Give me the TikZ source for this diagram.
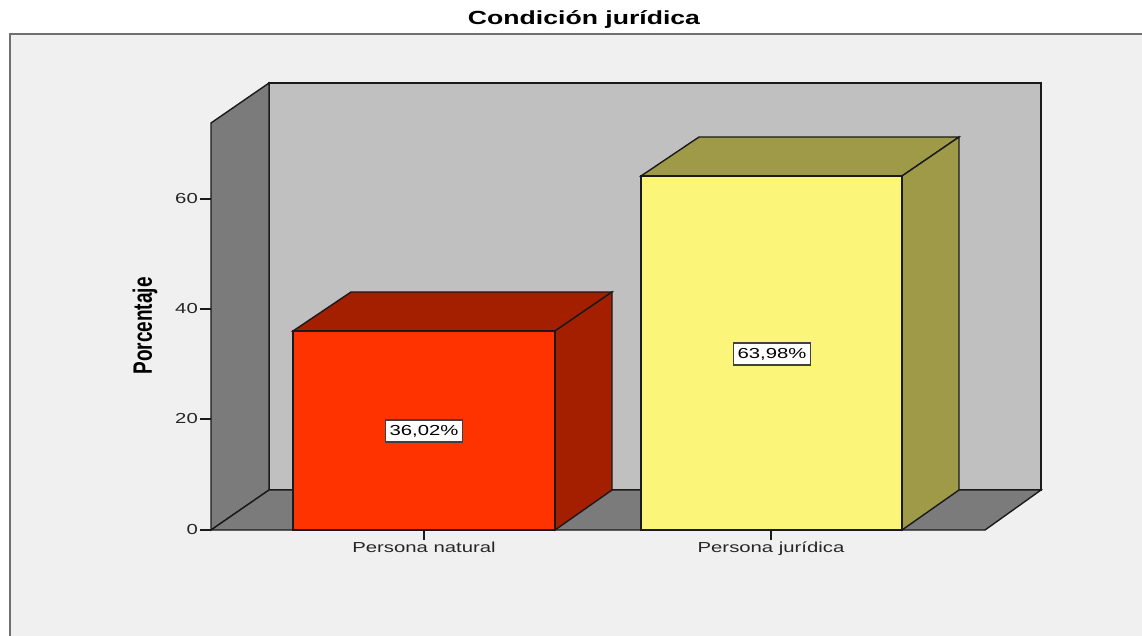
\documentclass[tikz,border=0pt]{standalone}
\usepackage{fontspec}
\newfontfamily\chartfont[FakeStretch=1.4]{Liberation Sans}
\newfontfamily\chartbold[FakeStretch=1.4]{Liberation Sans Bold}
\newfontfamily\plainbold{Liberation Sans Bold}
\definecolor{bgpanel}{HTML}{F0F0F0}
\definecolor{framegray}{HTML}{707070}
\definecolor{wallside}{HTML}{7B7B7B}
\definecolor{wallback}{HTML}{C0C0C0}
\definecolor{redfront}{HTML}{FF3300}
\definecolor{reddark}{HTML}{A31F00}
\definecolor{yelfront}{HTML}{FBF67A}
\definecolor{yeldark}{HTML}{9E9A48}
\definecolor{edge}{HTML}{1A1A1A}
\begin{document}
\begin{tikzpicture}[x=1pt,y=-1pt,
  face/.style={draw=edge,line width=1.4pt,line join=miter},
  ticklab/.style={font=\chartfont\fontsize{14.5}{16}\selectfont,text=black!85,inner sep=0pt},
  vallab/.style={font=\chartfont\fontsize{14.5}{16}\selectfont,fill=white,draw=black!75,line width=1.2pt,inner xsep=4pt,minimum height=22pt}]
\useasboundingbox (0,0) rectangle (1142,636);
\fill[white] (0,0) rectangle (1142,636);
\fill[bgpanel] (10,34) rectangle (1160,660);
\draw[framegray,line width=2pt] (10,660) -- (10,34) -- (1160,34);
% title
\node[font=\chartbold\fontsize{19}{21}\selectfont,inner sep=0pt] (title) at (584,20) {Condición jurídica};
% walls
\path[face,fill=wallback] (269,83) -- (1041,83) -- (1041,490) -- (269,490) -- cycle;
\path[face,fill=wallside] (211,123) -- (269,83) -- (269,490) -- (211,530) -- cycle;
\path[face,fill=wallside] (211,530) -- (985,530) -- (1041,490) -- (269,490) -- cycle;
% axis ticks
\foreach \v/\yy in {0/530,20/419,40/309,60/199}{
  \draw[edge,line width=1.2pt] (200,\yy) -- (211,\yy);
  \node[ticklab,anchor=east] (t\v) at (198,\yy) {\v};
}
\node[inner sep=0pt] (ytitle) at (145,326) {\scalebox{1.4}[1]{\rotatebox{90}{\plainbold\fontsize{19}{21}\selectfont Porcentaje}}};
% bar 1
\path[face,fill=reddark] (293,331) -- (351,292) -- (612,292) -- (555,331) -- cycle;
\path[face,fill=reddark] (555,331) -- (612,292) -- (612,490) -- (555,530) -- cycle;
\path[face,fill=redfront] (293,331) rectangle (555,530);
% bar 2
\path[face,fill=yeldark] (641,176) -- (699,137) -- (959,137) -- (902,176) -- cycle;
\path[face,fill=yeldark] (902,176) -- (959,137) -- (959,490) -- (902,530) -- cycle;
\path[face,fill=yelfront] (641,176) rectangle (902,530);
% x ticks and labels
\draw[edge,line width=1.2pt] (424,530) -- (424,540);
\draw[edge,line width=1.2pt] (771,530) -- (771,540);
\node[ticklab,anchor=north] (c1) at (424,542) {Persona natural};
\node[ticklab,anchor=north] (c2) at (771,542) {Persona jurídica};
% value labels
\node[vallab] (v1) at (424,431) {36,02\%};
\node[vallab] (v2) at (772,354) {63,98\%};
\end{tikzpicture}
\end{document}
